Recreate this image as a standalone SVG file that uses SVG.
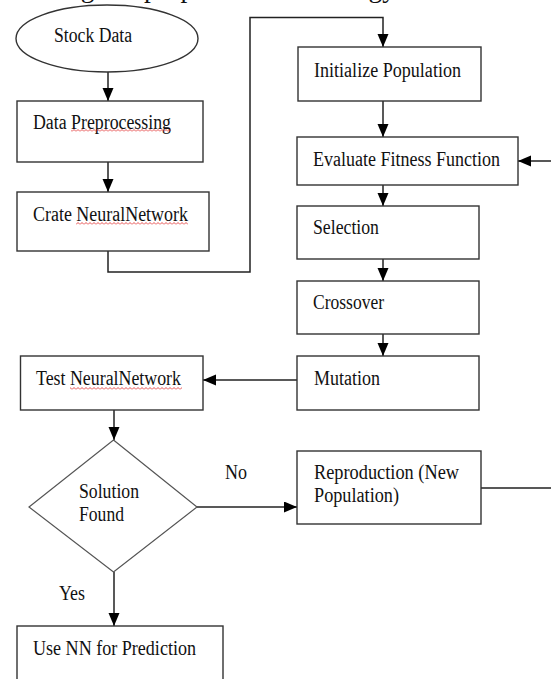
<svg xmlns="http://www.w3.org/2000/svg" width="551" height="679" viewBox="0 0 551 679">
<style>
  .box { fill: #ffffff; stroke: #333333; stroke-width: 1.4; }
  .dia { fill: #ffffff; stroke: #555555; stroke-width: 1.2; }
  .lbl { font-family: "Liberation Serif", "Times New Roman", serif; font-size: 20px; fill: #111111; }
  .cap { font-family: "Liberation Serif", "Times New Roman", serif; font-size: 28px; fill: #111111; }
  .con { fill: none; stroke: #222222; stroke-width: 1.5; }
  .sq { fill: url(#squig); }
</style>
<defs>
  <marker id="ah" markerUnits="userSpaceOnUse" markerWidth="14" markerHeight="12" refX="13" refY="5.5" orient="auto">
    <path d="M0,0 L13,5.5 L0,11 Z" fill="#000000"/>
  </marker>
  <pattern id="squig" width="4" height="3" patternUnits="userSpaceOnUse">
    <path d="M0,2.5 L2,0.5 L4,2.5" fill="none" stroke="#e02020" stroke-width="0.8"/>
  </pattern>
</defs>
<rect width="551" height="679" fill="#ffffff"/>

<text class="cap" x="58" y="-3" textLength="338" lengthAdjust="spacingAndGlyphs">Figure: proposed methodology</text>

<g id="connectors">
  <path class="con" d="M108,72 L108,101" marker-end="url(#ah)"/>
  <path class="con" d="M108,162 L108,192" marker-end="url(#ah)"/>
  <path class="con" d="M108,251 L108,272 L250,272 L250,17.5 L383,17.5 L383,47" marker-end="url(#ah)"/>
  <path class="con" d="M383,101 L383,137" marker-end="url(#ah)"/>
  <path class="con" d="M383,185 L383,206" marker-end="url(#ah)"/>
  <path class="con" d="M383,259 L383,281" marker-end="url(#ah)"/>
  <path class="con" d="M383,334 L383,356" marker-end="url(#ah)"/>
  <path class="con" d="M297,380 L203,380" marker-end="url(#ah)"/>
  <path class="con" d="M114,410 L114,440" marker-end="url(#ah)"/>
  <path class="con" d="M197,507 L297,507" marker-end="url(#ah)"/>
  <path class="con" d="M114,572 L114,626" marker-end="url(#ah)"/>
  <path class="con" d="M481,488 L555,488 L555,161 L518,161" marker-end="url(#ah)"/>
  <text class="lbl" x="225" y="479" textLength="22" lengthAdjust="spacingAndGlyphs">No</text>
  <text class="lbl" x="59" y="600" textLength="26" lengthAdjust="spacingAndGlyphs">Yes</text>
</g>

<g id="stock-data">
  <ellipse class="box" cx="107" cy="38.5" rx="91" ry="33.5"/>
  <text class="lbl" x="54" y="42" textLength="78" lengthAdjust="spacingAndGlyphs">Stock Data</text>
</g>

<g id="data-preprocessing">
  <rect class="box" x="17" y="101" width="186" height="61"/>
  <text class="lbl" x="33" y="129" textLength="138" lengthAdjust="spacingAndGlyphs">Data Preprocessing</text>
  <rect class="sq" x="71" y="129" width="100" height="3"/>
</g>

<g id="crate-neural-network">
  <rect class="box" x="17" y="192" width="192" height="59"/>
  <text class="lbl" x="33" y="221" textLength="155" lengthAdjust="spacingAndGlyphs">Crate NeuralNetwork</text>
  <rect class="sq" x="76" y="222" width="112" height="3"/>
</g>

<g id="initialize-population">
  <rect class="box" x="298" y="47" width="183" height="54"/>
  <text class="lbl" x="314" y="77" textLength="147" lengthAdjust="spacingAndGlyphs">Initialize Population</text>
</g>

<g id="evaluate-fitness">
  <rect class="box" x="297" y="137" width="221" height="48"/>
  <text class="lbl" x="313" y="166" textLength="187" lengthAdjust="spacingAndGlyphs">Evaluate Fitness Function</text>
</g>

<g id="selection">
  <rect class="box" x="297" y="206" width="182" height="53"/>
  <text class="lbl" x="313" y="234" textLength="66" lengthAdjust="spacingAndGlyphs">Selection</text>
</g>

<g id="crossover">
  <rect class="box" x="297" y="281" width="182" height="53"/>
  <text class="lbl" x="313" y="309" textLength="71" lengthAdjust="spacingAndGlyphs">Crossover</text>
</g>

<g id="mutation">
  <rect class="box" x="297" y="356" width="182" height="54"/>
  <text class="lbl" x="314" y="385" textLength="66" lengthAdjust="spacingAndGlyphs">Mutation</text>
</g>

<g id="test-neural-network">
  <rect class="box" x="20.5" y="356" width="182.5" height="54"/>
  <text class="lbl" x="36" y="385" textLength="145" lengthAdjust="spacingAndGlyphs">Test NeuralNetwork</text>
  <rect class="sq" x="70" y="387" width="112" height="3"/>
</g>

<g id="solution-found">
  <polygon class="dia" points="113.5,440 197,507 113.5,572 29,507"/>
  <text class="lbl" x="79" y="498" textLength="60" lengthAdjust="spacingAndGlyphs">Solution</text>
  <text class="lbl" x="79" y="521" textLength="45" lengthAdjust="spacingAndGlyphs">Found</text>
</g>

<g id="reproduction">
  <rect class="box" x="297" y="451" width="184" height="73"/>
  <text class="lbl" x="314" y="479" textLength="145" lengthAdjust="spacingAndGlyphs">Reproduction (New</text>
  <text class="lbl" x="314" y="502" textLength="85" lengthAdjust="spacingAndGlyphs">Population)</text>
</g>

<g id="use-nn">
  <rect class="box" x="17" y="626" width="206" height="70"/>
  <text class="lbl" x="33" y="655" textLength="163" lengthAdjust="spacingAndGlyphs">Use NN for Prediction</text>
</g>
</svg>
